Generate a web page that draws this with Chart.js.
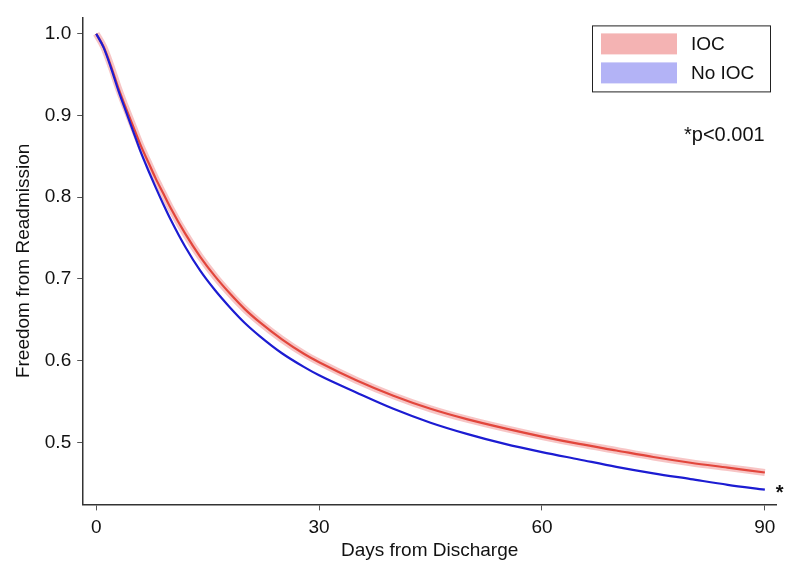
<!DOCTYPE html>
<html>
<head>
<meta charset="utf-8">
<script src="https://cdn.jsdelivr.net/npm/chart.js@4.4.0/dist/chart.umd.min.js"></script>
<style>
  html, body { margin: 0; padding: 0; background: #fff; }
  #wrap { width: 791px; height: 574px; }
</style>
</head>
<body>
<div id="wrap"><canvas id="km" width="791" height="574"></canvas></div>
<script>
// days from discharge
var days = [0, 1, 2, 3, 4, 5, 6, 7, 8, 9, 10, 12, 14, 16, 18, 20, 22, 25, 28, 30,
            35, 40, 45, 50, 55, 60, 65, 70, 75, 80, 85, 90];
// freedom from readmission, IOC group
var ioc = [1.0, 0.984, 0.960, 0.933, 0.909, 0.886, 0.863, 0.843, 0.823, 0.805, 0.787,
           0.755, 0.727, 0.703, 0.682, 0.663, 0.647, 0.626, 0.608, 0.598,
           0.576, 0.557, 0.541, 0.528, 0.517, 0.507, 0.498, 0.490, 0.482, 0.475, 0.469, 0.463];
// freedom from readmission, no IOC group
var noIoc = [1.0, 0.983, 0.958, 0.930, 0.905, 0.880, 0.855, 0.833, 0.812, 0.792, 0.773,
             0.739, 0.710, 0.686, 0.665, 0.646, 0.630, 0.609, 0.592, 0.582,
             0.561, 0.541, 0.524, 0.510, 0.498, 0.488, 0.479, 0.470, 0.462, 0.455, 0.448, 0.442];

var xTicks = [0, 30, 60, 90];
var yTicks = [0.5, 0.6, 0.7, 0.8, 0.9, 1.0];
var seriesLabels = ["IOC", "No IOC"];
var swatchColors = ["#f4b3b3", "#b3b3f6"];
var pValueText = "*p<0.001";

var FONT = '"Liberation Sans", Arial, Helvetica, sans-serif';
Chart.defaults.font.family = FONT;
Chart.defaults.font.size = 19;
Chart.defaults.color = "#111";

function pts(arr) {
	return days.map(function (d, i) { return { x: d, y: arr[i] }; });
}

// legend box + p value text, drawn on top of the plot
var extras = {
	id: "extras",
	afterDraw: function (chart) {
		var ctx = chart.ctx;
		var area = chart.chartArea;
		ctx.save();
		// legend frame
		var bx = area.right - 184, by = area.top + 8, bw = 178, bh = 66;
		ctx.fillStyle = "#fff";
		ctx.fillRect(bx, by, bw, bh);
		ctx.strokeStyle = "#222";
		ctx.lineWidth = 1;
		ctx.strokeRect(bx + 0.5, by + 0.5, bw, bh);
		ctx.font = "19px " + FONT;
		ctx.textBaseline = "middle";
		ctx.textAlign = "left";
		for (var i = 0; i < seriesLabels.length; i++) {
			var sy = by + 8 + i * 29;
			ctx.fillStyle = swatchColors[i];
			ctx.fillRect(bx + 9, sy, 76, 21);
			ctx.fillStyle = "#111";
			ctx.fillText(seriesLabels[i], bx + 99, sy + 11);
		}
		// p value note
		ctx.font = "20px " + FONT;
		ctx.fillText(pValueText, area.right - 92, area.top + 118);
		// asterisk next to the curve ends
		var xs = chart.scales.x, ys = chart.scales.y;
		var endY = (ys.getPixelForValue(ioc[ioc.length - 1]) + ys.getPixelForValue(noIoc[noIoc.length - 1])) / 2;
		ctx.font = "bold 20px " + FONT;
		ctx.fillText("*", xs.getPixelForValue(days[days.length - 1]) + 11, endY + 12);
		ctx.restore();
	}
};

new Chart(document.getElementById("km"), {
	type: "line",
	data: {
		datasets: [
			{
				label: "No IOC",
				data: pts(noIoc),
				borderColor: "#1c1cd2",
				borderWidth: 2.2,
				pointRadius: 0,
				cubicInterpolationMode: "monotone",
				order: 0
			},
			{
				label: "IOC",
				data: pts(ioc),
				borderColor: "#e2463c",
				borderWidth: 2.2,
				pointRadius: 0,
				cubicInterpolationMode: "monotone",
				order: 1
			},
			{
				label: "IOC 95% CI",
				data: pts(ioc),
				borderColor: "rgba(240,140,140,0.5)",
				borderWidth: 7,
				pointRadius: 0,
				cubicInterpolationMode: "monotone",
				order: 2
			}
		]
	},
	options: {
		responsive: false,
		animation: false,
		events: [],
		layout: { padding: { left: 12, right: 15, top: 15, bottom: 12 } },
		plugins: {
			legend: { display: false },
			tooltip: { enabled: false }
		},
		scales: {
			x: {
				type: "linear",
				min: -1.75,
				max: 91.5,
				afterBuildTicks: function (axis) {
					axis.ticks = xTicks.map(function (v) { return { value: v }; });
				},
				ticks: { padding: 6, maxRotation: 0, autoSkip: false },
				grid: { display: true, drawOnChartArea: false, drawTicks: true, tickLength: 6, color: "#555" },
				border: { display: true, color: "#333", width: 1.5 },
				title: { display: true, text: "Days from Discharge", font: { size: 19 }, padding: { top: -6, bottom: 0 } }
			},
			y: {
				type: "linear",
				min: 0.424,
				max: 1.02,
				afterBuildTicks: function (axis) {
					axis.ticks = yTicks.map(function (v) { return { value: v }; });
				},
				ticks: {
					padding: 6,
					autoSkip: false,
					callback: function (v) { return Number(v).toFixed(1); }
				},
				grid: { display: true, drawOnChartArea: false, drawTicks: true, tickLength: 6, color: "#555" },
				border: { display: true, color: "#333", width: 1.5 },
				title: { display: true, text: "Freedom from Readmission", font: { size: 19 }, padding: { top: 0, bottom: 4 } }
			}
		}
	},
	plugins: [extras]
});
</script>
</body>
</html>
